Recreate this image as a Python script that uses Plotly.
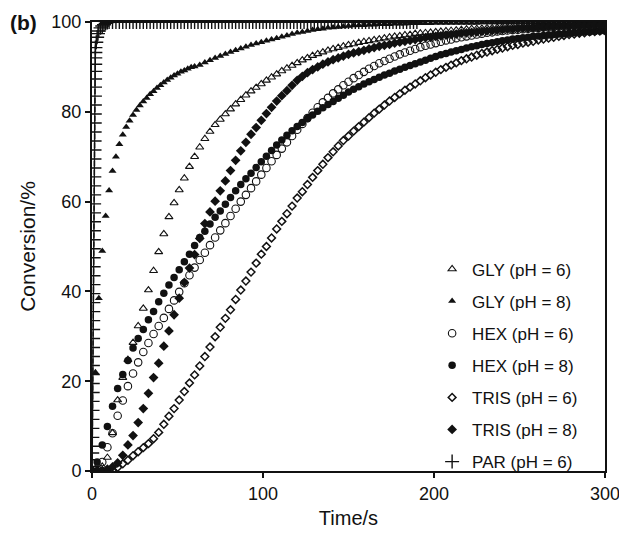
import plotly.graph_objects as go

# sampling times (s)
t3 = list(range(0, 301, 3))
gly8_t = list(range(0, 60, 2)) + list(range(60, 301, 3))
par_t = [i * 0.04 for i in range(51)] + [2.5, 3, 3.5, 4, 5, 6, 7, 8, 9] + list(range(10, 191, 2))

# conversion (%)
gly6 = [0, 0.3, 1, 3, 8.5, 15.8, 20.8, 24.8, 28.6, 32.3,
        36.2, 40.3, 44.6, 48.8, 52.8, 56.6, 59.7, 62.6, 65.2, 67.8,
        70, 72.1, 74, 75.6, 77.1, 78.3, 79.5, 80.6, 81.7, 82.7,
        83.7, 84.6, 85.4, 86.2, 87, 87.7, 88.4, 89.1, 89.7, 90.3,
        90.9, 91.5, 92, 92.5, 92.9, 93.3, 93.7, 94, 94.3, 94.6,
        94.9, 95.1, 95.4, 95.6, 95.8, 96, 96.2, 96.4, 96.6, 96.8,
        96.9, 97.1, 97.2, 97.4, 97.5, 97.6, 97.7, 97.8, 97.9, 98,
        98.1, 98.2, 98.3, 98.4, 98.5, 98.5, 98.6, 98.7, 98.7, 98.8,
        98.9, 98.9, 99, 99, 99.1, 99.1, 99.2, 99.2, 99.3, 99.3,
        99.3, 99.4, 99.4, 99.4, 99.5, 99.5, 99.5, 99.6, 99.6, 99.6,
        99.6]

gly8 = [0, 22, 38.5, 49, 56.8, 62.5, 66.8, 70, 72.8, 74.9,
        76.6, 78, 79.3, 80.4, 81.4, 82.3, 83.1, 83.9, 84.6, 85.3,
        85.9, 86.5, 87.1, 87.6, 88.1, 88.5, 88.9, 89.2, 89.6, 89.9,
        90.1, 90.4, 91, 91.5, 92, 92.4, 92.9, 93.3, 93.7, 94.1,
        94.5, 94.9, 95.2, 95.5, 95.8, 96.1, 96.4, 96.7, 97, 97.3,
        97.6, 97.8, 98, 98.2, 98.4, 98.5, 98.7, 98.8, 98.9, 99,
        99.1, 99.2, 99.3, 99.3, 99.4, 99.4, 99.5, 99.5, 99.5, 99.6,
        99.6, 99.6, 99.7, 99.7, 99.7, 99.7, 99.7, 99.8, 99.8, 99.8,
        99.8, 99.8, 99.8, 99.8, 99.8, 99.8, 99.9, 99.9, 99.9, 99.9,
        99.9, 99.9, 99.9, 99.9, 99.9, 99.9, 99.9, 99.9, 99.9, 99.9,
        99.9, 99.9, 99.9, 99.9, 99.9, 99.9, 99.9, 99.9, 99.9, 99.9,
        99.9]

hex6 = [0, 0.5, 2, 5.3, 8.4, 12.3, 15.7, 18.9, 21.7, 24.2,
        26.5, 28.5, 30.5, 32.3, 34.1, 36.1, 38, 39.9, 41.8, 43.6,
        45.3, 47, 48.6, 50.3, 52, 53.6, 55.2, 56.8, 58.4, 60,
        61.5, 63, 64.5, 66, 67.5, 69, 70.4, 71.8, 73.2, 74.6,
        76, 77.3, 78.6, 79.8, 81, 82.1, 83.1, 84.1, 85, 85.9,
        86.7, 87.5, 88.2, 88.9, 89.6, 90.2, 90.8, 91.3, 91.8, 92.3,
        92.8, 93.2, 93.6, 94, 94.4, 94.7, 95, 95.3, 95.6, 95.9,
        96.1, 96.4, 96.6, 96.8, 97, 97.2, 97.4, 97.6, 97.7, 97.9,
        98, 98.1, 98.2, 98.3, 98.4, 98.5, 98.6, 98.7, 98.8, 98.8,
        98.9, 99, 99, 99.1, 99.1, 99.2, 99.2, 99.3, 99.3, 99.3,
        99.4]

hex8 = [0, 2, 5.8, 9.9, 14.4, 18.4, 21.5, 24.6, 27.4, 29.5,
        31.5, 33.7, 35.5, 37.7, 39.6, 41.4, 43.1, 44.8, 46.6, 48.3,
        50.2, 52, 53.4, 55, 56.5, 57.9, 59.4, 60.9, 62.4, 63.8,
        65.1, 66.3, 67.6, 68.9, 70.1, 71.4, 72.6, 73.7, 74.8, 75.8,
        76.7, 77.6, 78.5, 79.3, 80.1, 80.9, 81.6, 82.3, 83, 83.7,
        84.4, 85, 85.6, 86.2, 86.7, 87.2, 87.7, 88.2, 88.6, 89.1,
        89.5, 89.9, 90.3, 90.7, 91.1, 91.5, 91.9, 92.3, 92.7, 93,
        93.3, 93.6, 93.9, 94.2, 94.5, 94.7, 95, 95.2, 95.4, 95.6,
        95.8, 96, 96.2, 96.3, 96.5, 96.6, 96.8, 96.9, 97, 97.1,
        97.2, 97.3, 97.4, 97.5, 97.6, 97.7, 97.8, 97.8, 97.9, 98,
        98]

tris6 = [0, 0, 0, 0, 0.2, 0.8, 1.6, 2.4, 3.4, 4.3,
         5.2, 6.1, 7.2, 8.6, 10.4, 12.2, 13.9, 15.8, 17.7, 19.6,
         21.4, 23.4, 25.5, 27.6, 29.9, 32, 34, 35.9, 38.2, 40.3,
         42.3, 44.3, 46.3, 48.3, 50, 51.9, 53.9, 55.6, 57.3, 59,
         60.8, 62.2, 63.8, 65.4, 66.9, 68.3, 69.8, 71.1, 72.4, 73.6,
         74.6, 75.7, 76.7, 77.7, 78.7, 79.7, 80.6, 81.5, 82.4, 83.2,
         84, 84.8, 85.5, 86.2, 86.9, 87.6, 88.2, 88.8, 89.4, 89.9,
         90.4, 90.9, 91.4, 91.8, 92.2, 92.6, 93, 93.3, 93.6, 93.9,
         94.2, 94.5, 94.8, 95, 95.3, 95.5, 95.7, 96, 96.2, 96.4,
         96.6, 96.8, 97, 97.2, 97.3, 97.5, 97.6, 97.8, 97.9, 98,
         98.1]

tris8 = [0, 0, 0.1, 0.4, 0.9, 1.8, 3.5, 5.8, 7.9, 10.8,
         13.9, 17.3, 20.8, 24, 27.8, 31.2, 34.8, 38.5, 42, 45.2,
         48.2, 51.8, 55.1, 57.7, 60.1, 62.4, 64.6, 66.9, 69.2, 71.3,
         73.2, 75, 76.5, 78.1, 79.6, 81, 82.4, 83.6, 84.7, 85.9,
         87, 87.9, 88.7, 89.4, 90, 90.6, 91.1, 91.6, 92, 92.4,
         92.8, 93.1, 93.4, 93.7, 94, 94.3, 94.6, 94.8, 95, 95.3,
         95.5, 95.7, 95.9, 96.1, 96.3, 96.5, 96.6, 96.8, 96.9, 97.1,
         97.2, 97.3, 97.5, 97.6, 97.7, 97.8, 97.9, 98, 98.1, 98.2,
         98.3, 98.4, 98.4, 98.5, 98.6, 98.6, 98.7, 98.8, 98.8, 98.9,
         98.9, 99, 99, 99.1, 99.1, 99.2, 99.2, 99.2, 99.3, 99.3,
         99.3]

par = [0, 1, 2.5, 4, 5.5, 7.5, 9.5, 11.5, 13.5, 15.5,
       17.5, 19.5, 21.5, 23.5, 25.5, 27.5, 29.5, 31.5, 33.5, 35.5,
       37.5, 39.5, 41.5, 43.5, 45.5, 47.5, 49.5, 51.5, 53.5, 55.5,
       57.5, 59.5, 61.5, 63.5, 65.5, 67.5, 69.5, 71.5, 73.5, 75.5,
       77.5, 79.5, 81.5, 83.5, 85.5, 87.3, 89, 90.6, 92, 93.2,
       94.3,
       95.5, 96.6, 97.4, 98, 98.7, 99.1, 99.4, 99.7, 99.9] + [100] * 91

labels = ["GLY (pH = 6)", "GLY (pH = 8)", "HEX (pH = 6)", "HEX (pH = 8)",
          "TRIS (pH = 6)", "TRIS (pH = 8)", "PAR (pH = 6)"]

for arr in (gly6, hex6, hex8, tris6, tris8):
    assert len(arr) == len(t3)
assert len(gly8) == len(gly8_t)
assert len(par) == len(par_t)

ink = "#111111"
FONT = "Liberation Sans, Arial, Helvetica, sans-serif"

series = [
    (t3, gly6, dict(symbol="triangle-up-open", size=7, color=ink, line=dict(width=1.1, color=ink))),
    (gly8_t, gly8, dict(symbol="triangle-up", size=7, color=ink, line=dict(width=0))),
    (t3, hex6, dict(symbol="circle-open", size=7.5, color=ink, line=dict(width=1.1, color=ink))),
    (t3, hex8, dict(symbol="circle", size=7.5, color=ink, line=dict(width=0))),
    (t3, tris6, dict(symbol="diamond-open", size=6, color=ink, line=dict(width=1.5, color=ink))),
    (t3, tris8, dict(symbol="diamond", size=7.5, color=ink, line=dict(width=0))),
    (par_t, par, dict(symbol="cross-thin", size=10, color=ink, line=dict(width=1.4, color=ink))),
]

fig = go.Figure()
for i, (x, y, mk) in enumerate(series):
    fig.add_trace(go.Scatter(x=x, y=y, mode="markers", name=labels[i],
                             legendgroup="g%d" % i, marker=mk))

axis_common = dict(
    showline=True, linewidth=2, linecolor=ink, mirror=True,
    ticks="outside", ticklen=5, tickwidth=1.5, tickcolor=ink,
    showgrid=False, zeroline=False, automargin=False,
    tickfont=dict(family=FONT, size=18, color=ink),
)

# page body has an 8px margin, so the figure is a bit smaller than the window
fig.update_layout(
    width=619, height=527,
    margin=dict(l=84, r=22, t=14, b=64),
    plot_bgcolor="white", paper_bgcolor="white",
    font=dict(family=FONT, color=ink),
    xaxis=dict(range=[0, 300], tickvals=[0, 100, 200, 300],
               title=dict(text="Time/s", font=dict(size=20, family=FONT), standoff=8), **axis_common),
    yaxis=dict(range=[0, 100], tickvals=[0, 20, 40, 60, 80, 100],
               title=dict(text="Conversion/%", font=dict(size=21, family=FONT), standoff=10), **axis_common),
    legend=dict(x=0.663, y=0.489, xanchor="left", yanchor="top",
                bgcolor="rgba(0,0,0,0)", font=dict(size=17, family=FONT),
                tracegroupgap=7),
    annotations=[dict(text="<b>(b)</b>", xref="paper", yref="paper", x=-0.164, y=1.0,
                      xanchor="left", yanchor="middle", showarrow=False,
                      font=dict(size=21, family=FONT, color=ink))],
)

fig.write_html("out.html")
